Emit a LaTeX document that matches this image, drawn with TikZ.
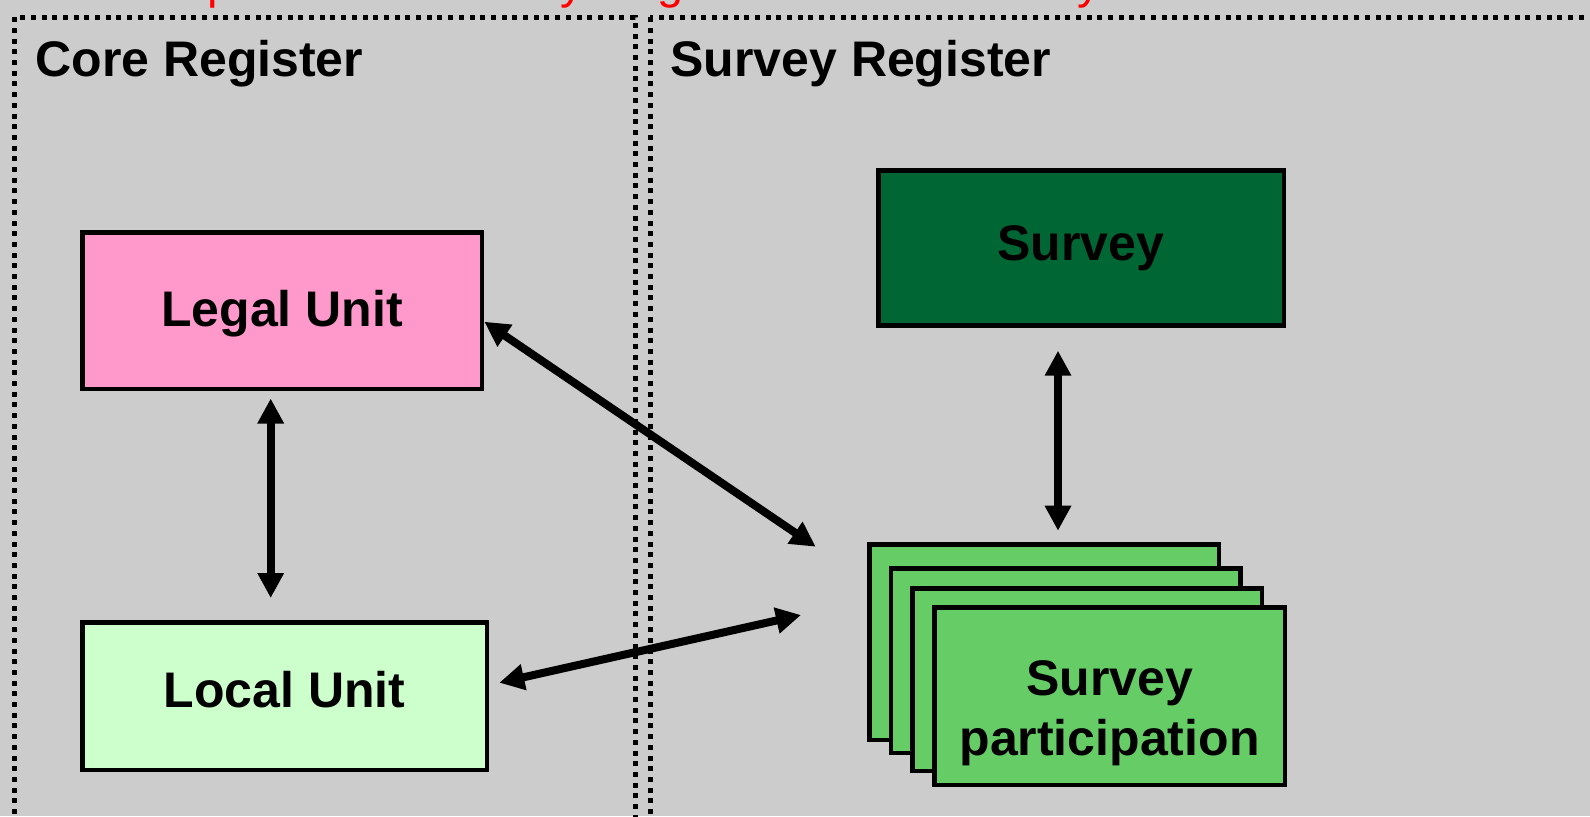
\documentclass[tikz,border=0pt]{standalone}
\usepackage{fontspec}
\setmainfont{Liberation Sans}
\usetikzlibrary{arrows.meta,calc}
\definecolor{bggray}{HTML}{CCCCCC}
\definecolor{pinkbox}{HTML}{FF99CC}
\definecolor{lgreen}{HTML}{CCFFCC}
\definecolor{dgreen}{HTML}{006633}
\definecolor{mgreen}{HTML}{66CC66}
\begin{document}
\begin{tikzpicture}[x=0.5pt,y=-0.5pt,
  frame/.style={draw=black, line width=2.5pt, dash pattern=on 2.5pt off 2.85pt},
  box/.style={draw=black, line width=2.25pt, inner sep=0pt, align=center,
    font=\fontsize{25pt}{30pt}\selectfont\bfseries},
  regtitle/.style={anchor=base west, inner sep=0pt, font=\fontsize{25pt}{30pt}\selectfont\bfseries},
  dbl/.style={{Triangle[length=12.5pt,width=12.5pt]}-{Triangle[length=12.5pt,width=12.5pt]}, line width=4pt}
]
\useasboundingbox (0,0) rectangle (1590,816);
\fill[bggray] (0,0) rectangle (1590,816);

% dotted frames
\draw[frame] (14.5,17.2) rectangle (635,900);
\draw[frame] (650,17.2) rectangle (1700,900);

% red title (cut off at the top)
\node[anchor=base west, inner sep=0pt, text=red, font=\fontsize{23.5pt}{28pt}\selectfont] (title) at (-25,-1.5)
  {Relationship between Survey Register and the Survey};

\node[regtitle] (core) at (35,76) {Core Register};
\node[regtitle] (surveyreg) at (670,76) {Survey Register};

% core register boxes
\node[box, fill=pinkbox, minimum width=199.75pt, minimum height=78.25pt, text height=18pt, text depth=2pt] (legal) at (282,310.5) {Legal Unit};
\node[box, fill=lgreen, minimum width=202.25pt, minimum height=73.75pt, text height=18pt, text depth=7pt] (local) at (284.5,696) {Local Unit};

% survey register boxes
\node[box, fill=dgreen, minimum width=202.75pt, minimum height=77.5pt, text height=18pt, text depth=5.4pt] (survey) at (1081,247.75) {Survey};
\node[box, fill=mgreen, minimum width=174.75pt, minimum height=97.75pt] (part1) at (1044,642) {};
\node[box, fill=mgreen, minimum width=174.75pt, minimum height=92.25pt] (part2) at (1065.75,660.5) {};
\node[box, fill=mgreen, minimum width=174.75pt, minimum height=91.25pt] (part3) at (1087,679.5) {};
\node[box, fill=mgreen, minimum width=175.25pt, minimum height=88.75pt, text height=64pt, text depth=5pt] (part4) at (1109.5,696) {Survey\\participation};

% connectors
\draw[dbl] ($(legal.south)+(-11.3,7.5)$) -- ($(local.north)+(-13.8,-22)$);
\draw[dbl] ($(survey.south)+(-23,23.2)$) -- ($(part1.north)+(14,-11.3)$);
\draw[dbl] ($(legal.east)+(0.3,11.2)$) -- ($(part1.west)+(-51.3,-95.3)$);
\draw[dbl] ($(local.east)+(10.3,-13.3)$) -- ($(part1.west)+(-66,-27)$);
\end{tikzpicture}
\end{document}
